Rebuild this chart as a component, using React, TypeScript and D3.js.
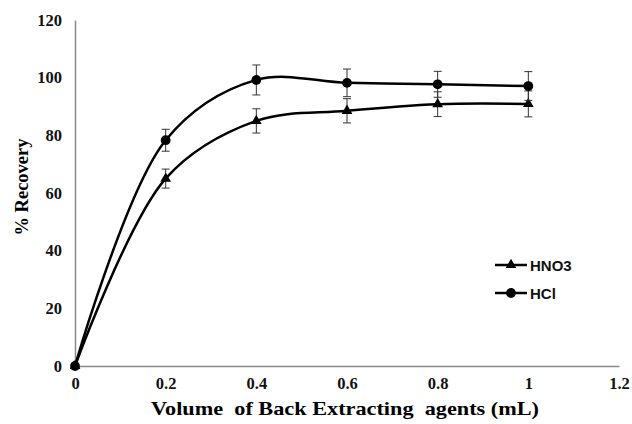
import React, { useRef, useEffect } from "react";
import * as d3 from "d3";

// data
const volumes = [0, 0.2, 0.4, 0.6, 0.8, 1];
const hno3 = [0, 65, 85, 88.5, 90.8, 90.9];
const hno3Err = [0, 3.3, 4.2, 4.2, 4.3, 4.5];
const hcl = [0, 78.3, 99.2, 98.2, 97.7, 97.1];
const hclErr = [0, 3.8, 5.2, 4.8, 4.5, 5];
const xTicks = [0, 0.2, 0.4, 0.6, 0.8, 1, 1.2];
const yTicks = [0, 20, 40, 60, 80, 100, 120];

const series = [
  { name: "HNO3", values: hno3, err: hno3Err, marker: "triangle" },
  { name: "HCl", values: hcl, err: hclErr, marker: "circle" },
];

const App = () => {
  const svgRef = useRef<SVGSVGElement>(null);

  useEffect(() => {
    const svg = d3.select(svgRef.current);
    svg.selectAll("*").remove();

    const x = d3.scaleLinear().domain([0, 1.2]).range([75, 619]);
    const y = d3.scaleLinear().domain([0, 120]).range([366, 20]);
    const serif = "'Liberation Serif', 'Times New Roman', serif";
    const sans = "'Liberation Sans', Arial, sans-serif";

    // axes
    const xAxis = svg
      .append("g")
      .attr("transform", `translate(0, ${y(0)})`)
      .call(d3.axisBottom(x).tickValues(xTicks).tickSize(0).tickPadding(11).tickFormat(d3.format("")));
    const yAxis = svg
      .append("g")
      .attr("transform", `translate(${x(0)}, 0)`)
      .call(d3.axisLeft(y).tickValues(yTicks).tickSize(0).tickPadding(13));
    [xAxis, yAxis].forEach(a => {
      a.select(".domain").attr("stroke", "#8a8a8a").attr("stroke-width", 1.5);
      a.selectAll("text")
        .attr("font-family", serif)
        .attr("font-weight", "bold")
        .attr("font-size", 16.5)
        .attr("fill", "#111");
    });

    // titles
    svg
      .append("text")
      .attr("x", 345)
      .attr("y", 415)
      .attr("text-anchor", "middle")
      .attr("font-family", serif)
      .attr("font-weight", "bold")
      .attr("font-size", 19)
      .attr("textLength", 388)
      .attr("lengthAdjust", "spacingAndGlyphs")
      .attr("xml:space", "preserve")
      .text("Volume  of Back Extracting  agents (mL)");
    svg
      .append("text")
      .attr("transform", "translate(28, 187) rotate(-90)")
      .attr("text-anchor", "middle")
      .attr("font-family", serif)
      .attr("font-weight", "bold")
      .attr("font-size", 18.5)
      .text("% Recovery");

    const line = d3
      .line<number>()
      .x((d, i) => x(volumes[i]))
      .y(d => y(d))
      .curve(d3.curveCatmullRom.alpha(0.5));

    const tri = d3.symbol().type(d3.symbolTriangle).size(50);
    const dot = d3.symbol().type(d3.symbolCircle).size(75);

    series.forEach(s => {
      const g = svg.append("g");
      // error bars
      s.values.forEach((v, i) => {
        if (!s.err[i]) return;
        const cx = x(volumes[i]);
        const y1 = y(v + s.err[i]);
        const y2 = y(v - s.err[i]);
        g.append("line").attr("x1", cx).attr("x2", cx).attr("y1", y1).attr("y2", y2)
          .attr("stroke", "#333").attr("stroke-width", 1);
        [y1, y2].forEach(yy =>
          g.append("line").attr("x1", cx - 4).attr("x2", cx + 4).attr("y1", yy).attr("y2", yy)
            .attr("stroke", "#333").attr("stroke-width", 1)
        );
      });
      g.append("path")
        .attr("d", line(s.values))
        .attr("fill", "none")
        .attr("stroke", "#000")
        .attr("stroke-width", 2.5);
      g.selectAll("path.m")
        .data(s.values)
        .enter()
        .append("path")
        .attr("class", "m")
        .attr("d", s.marker === "triangle" ? tri : dot)
        .attr("transform", (d, i) => `translate(${x(volumes[i])}, ${y(d)})`)
        .attr("fill", "#000");
    });

    // legend
    const legend = svg.append("g");
    series.forEach((s, i) => {
      const ly = 265 + i * 28;
      legend.append("line").attr("x1", 495).attr("x2", 527).attr("y1", ly).attr("y2", ly)
        .attr("stroke", "#000").attr("stroke-width", 2.5);
      legend.append("path")
        .attr("d", s.marker === "triangle" ? tri : dot)
        .attr("transform", `translate(511, ${ly})`)
        .attr("fill", "#000");
      legend.append("text")
        .attr("x", 530)
        .attr("y", ly + 5.5)
        .attr("font-family", sans)
        .attr("font-weight", "bold")
        .attr("font-size", 15)
        .attr("fill", "#111")
        .text(s.name);
    });
  }, []);

  return <svg ref={svgRef} width={632} height={424} style={{ position: "absolute", left: 0, top: 0 }} />;
};

export default App;
